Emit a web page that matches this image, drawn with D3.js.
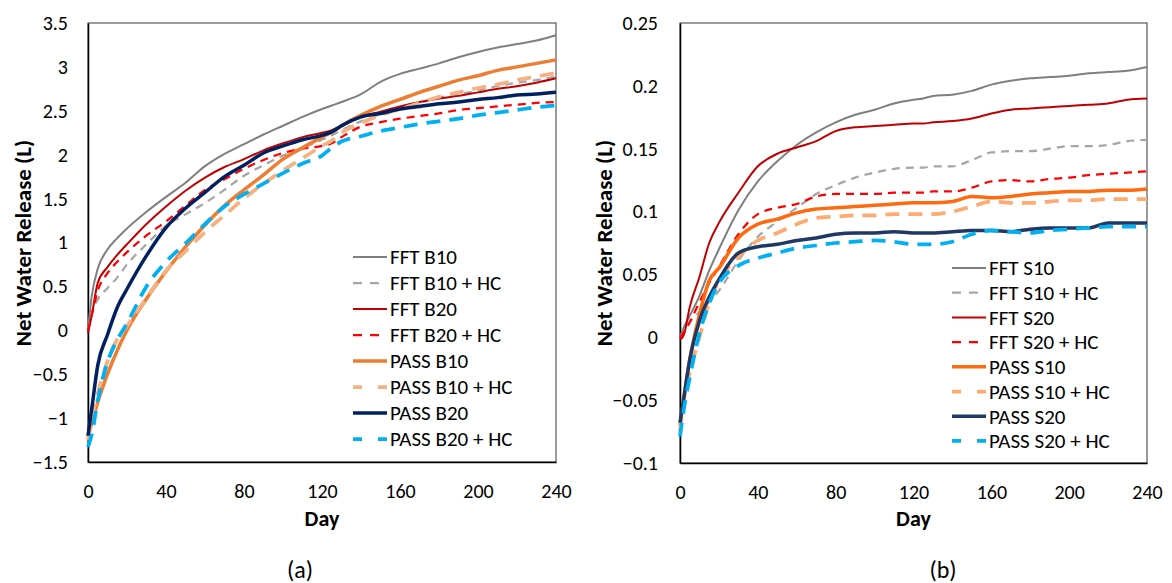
<!DOCTYPE html>
<html>
<head>
<meta charset="utf-8">
<script src="https://cdn.jsdelivr.net/npm/d3@7"></script>
<style>
  body { margin: 0; background: #fff; }
  svg text { font-family: Carlito, Calibri, Lato, sans-serif; fill: #000; }
</style>
</head>
<body>
<svg id="chart" width="1172" height="583"></svg>
<script>
// sample days shared by every series (both panels)
var days = [0, 2, 5, 10, 15, 20, 30, 40, 50, 60, 70, 80, 90, 100, 110, 120, 125, 130, 140, 150, 160, 170, 180, 190, 200, 210, 220, 230, 240];

// panel (a) - B series
var namesA = ['FFT B10', 'FFT B10 + HC', 'FFT B20', 'FFT B20 + HC', 'PASS B10', 'PASS B10 + HC', 'PASS B20', 'PASS B20 + HC'];
var fftB10 = [0.0, 0.40, 0.70, 0.92, 1.05, 1.16, 1.35, 1.52, 1.68, 1.87, 2.01, 2.12, 2.23, 2.33, 2.43, 2.52, 2.56, 2.60, 2.69, 2.83, 2.92, 2.98, 3.04, 3.11, 3.17, 3.22, 3.26, 3.30, 3.36];
var fftB10hc = [0.0, 0.20, 0.35, 0.48, 0.60, 0.75, 0.98, 1.19, 1.32, 1.45, 1.60, 1.76, 1.88, 1.99, 2.08, 2.17, 2.22, 2.28, 2.38, 2.46, 2.53, 2.59, 2.65, 2.69, 2.73, 2.78, 2.82, 2.85, 2.89];
var fftB20 = [-0.03, 0.18, 0.54, 0.72, 0.86, 0.98, 1.21, 1.41, 1.59, 1.74, 1.86, 1.95, 2.05, 2.13, 2.20, 2.25, 2.28, 2.33, 2.43, 2.49, 2.55, 2.60, 2.64, 2.67, 2.71, 2.75, 2.78, 2.82, 2.87];
var fftB20hc = [0.0, 0.18, 0.45, 0.65, 0.78, 0.89, 1.08, 1.24, 1.42, 1.60, 1.72, 1.84, 1.94, 2.02, 2.07, 2.10, 2.13, 2.20, 2.32, 2.37, 2.41, 2.44, 2.47, 2.51, 2.53, 2.55, 2.57, 2.59, 2.60];
var passB10 = [-1.22, -1.05, -0.82, -0.50, -0.23, 0.0, 0.36, 0.67, 0.95, 1.20, 1.42, 1.60, 1.77, 1.95, 2.08, 2.20, 2.26, 2.33, 2.45, 2.55, 2.63, 2.71, 2.78, 2.85, 2.90, 2.96, 3.00, 3.04, 3.08];
var passB10hc = [-1.25, -1.00, -0.72, -0.35, -0.10, 0.05, 0.37, 0.68, 0.90, 1.12, 1.31, 1.50, 1.67, 1.82, 1.96, 2.10, 2.16, 2.25, 2.36, 2.45, 2.52, 2.59, 2.66, 2.71, 2.76, 2.80, 2.85, 2.89, 2.93];
var passB20 = [-1.20, -0.88, -0.40, -0.05, 0.26, 0.47, 0.85, 1.17, 1.39, 1.57, 1.75, 1.88, 2.02, 2.10, 2.17, 2.22, 2.26, 2.33, 2.43, 2.47, 2.52, 2.55, 2.58, 2.60, 2.63, 2.65, 2.68, 2.69, 2.71];
var passB20hc = [-1.33, -1.18, -0.80, -0.36, -0.11, 0.08, 0.50, 0.78, 0.99, 1.21, 1.41, 1.55, 1.67, 1.79, 1.90, 1.99, 2.08, 2.15, 2.21, 2.27, 2.31, 2.35, 2.38, 2.41, 2.45, 2.48, 2.51, 2.54, 2.56];
var yTicksA = [-1.5, -1, -0.5, 0, 0.5, 1, 1.5, 2, 2.5, 3, 3.5];

// panel (b) - S series
var namesB = ['FFT S10', 'FFT S10 + HC', 'FFT S20', 'FFT S20 + HC', 'PASS S10', 'PASS S10 + HC', 'PASS S20', 'PASS S20 + HC'];
var fftS10 = [0.0, 0.008, 0.017, 0.033, 0.053, 0.070, 0.101, 0.124, 0.140, 0.153, 0.163, 0.171, 0.177, 0.181, 0.186, 0.189, 0.190, 0.192, 0.193, 0.196, 0.201, 0.204, 0.206, 0.207, 0.208, 0.210, 0.211, 0.212, 0.215];
var fftS10hc = [0.0, 0.004, 0.012, 0.020, 0.028, 0.037, 0.061, 0.080, 0.092, 0.103, 0.114, 0.121, 0.127, 0.131, 0.134, 0.135, 0.135, 0.136, 0.136, 0.141, 0.147, 0.148, 0.148, 0.150, 0.152, 0.152, 0.153, 0.156, 0.157];
var fftS20 = [-0.002, 0.002, 0.024, 0.048, 0.075, 0.091, 0.115, 0.136, 0.146, 0.151, 0.156, 0.164, 0.167, 0.168, 0.169, 0.170, 0.170, 0.171, 0.172, 0.174, 0.178, 0.181, 0.182, 0.183, 0.184, 0.185, 0.186, 0.189, 0.190];
var fftS20hc = [0.0, 0.004, 0.012, 0.028, 0.043, 0.056, 0.082, 0.098, 0.103, 0.106, 0.112, 0.114, 0.114, 0.114, 0.115, 0.115, 0.115, 0.116, 0.116, 0.119, 0.124, 0.125, 0.124, 0.126, 0.127, 0.129, 0.130, 0.131, 0.132];
var passS10 = [-0.070, -0.048, -0.018, 0.018, 0.045, 0.055, 0.079, 0.090, 0.094, 0.099, 0.102, 0.103, 0.104, 0.105, 0.106, 0.107, 0.107, 0.107, 0.108, 0.112, 0.111, 0.112, 0.114, 0.115, 0.116, 0.116, 0.117, 0.117, 0.118];
var passS10hc = [-0.075, -0.050, -0.028, 0.0, 0.028, 0.045, 0.064, 0.077, 0.083, 0.090, 0.095, 0.096, 0.097, 0.097, 0.098, 0.098, 0.098, 0.098, 0.100, 0.104, 0.108, 0.107, 0.107, 0.108, 0.109, 0.109, 0.110, 0.110, 0.110];
var passS20 = [-0.068, -0.048, -0.018, 0.013, 0.032, 0.046, 0.067, 0.072, 0.074, 0.077, 0.079, 0.082, 0.083, 0.083, 0.084, 0.083, 0.083, 0.083, 0.084, 0.085, 0.085, 0.084, 0.086, 0.087, 0.087, 0.087, 0.091, 0.091, 0.091];
var passS20hc = [-0.079, -0.057, -0.032, 0.003, 0.027, 0.043, 0.057, 0.063, 0.067, 0.071, 0.073, 0.075, 0.076, 0.077, 0.076, 0.074, 0.074, 0.074, 0.076, 0.082, 0.085, 0.084, 0.083, 0.085, 0.086, 0.087, 0.088, 0.088, 0.088];
var yTicksB = [-0.1, -0.05, 0, 0.05, 0.1, 0.15, 0.2, 0.25];

var xTicks = [0, 40, 80, 120, 160, 200, 240];

// line looks, in legend order
var colorsA = ['#7f7f7f', '#a6a6a6', '#c00000', '#ff0000', '#ed7d31', '#f4b183', '#002060', '#00b0f0'];
var colorsB = ['#7f7f7f', '#a6a6a6', '#c00000', '#ff0000', '#ff6a10', '#ffaa70', '#1f3864', '#00b0f0'];
var widths = [2, 2.25, 2, 2.25, 3.5, 3.75, 3.5, 3.75];
var dashes = [null, '8,6', null, '8,6', null, '14,9', null, '14,9'];

var svg = d3.select('#chart');

function drawPanel(opt) {
    var g = svg.append('g');
    var x = d3.scaleLinear().domain([0, 240]).range([opt.left, opt.right]);
    var y = d3.scaleLinear().domain(opt.yDomain).range([opt.bottom, opt.top]);

    // frame
    g.append('rect')
        .attr('x', opt.left).attr('y', opt.top)
        .attr('width', opt.right - opt.left).attr('height', opt.bottom - opt.top)
        .attr('fill', 'none').attr('stroke', '#595959').attr('stroke-width', 1.2);

    var yAxis = g.append('g')
        .attr('transform', 'translate(' + opt.left + ',0)')
        .call(d3.axisLeft(y).tickValues(opt.yTicks).tickSize(0).tickPadding(opt.yPad).tickFormat(function(d) { return d3.format('')(+d.toFixed(2)); }));
    yAxis.select('.domain').attr('stroke', '#000').attr('stroke-width', 1.5);
    yAxis.selectAll('text').style('font-size', '20px');

    var xAxis = g.append('g')
        .attr('transform', 'translate(0,' + opt.bottom + ')')
        .call(d3.axisBottom(x).tickValues(xTicks).tickSize(0).tickPadding(22));
    xAxis.select('.domain').attr('stroke', '#000').attr('stroke-width', 1.5);
    xAxis.selectAll('text').style('font-size', '20px');

    var line = d3.line()
        .x(function(d) { return x(d[0]); })
        .y(function(d) { return y(d[1]); })
        .curve(d3.curveMonotoneX);

    opt.series.forEach(function(vals, i) {
        var pts = days.map(function(dd, j) { return [dd, vals[j]]; });
        g.append('path')
            .datum(pts)
            .attr('d', line)
            .attr('fill', 'none')
            .attr('stroke', opt.colors[i])
            .attr('stroke-width', widths[i])
            .attr('stroke-dasharray', dashes[i])
            .attr('stroke-linejoin', 'round');
    });

    // legend
    opt.names.forEach(function(name, i) {
        var ly = opt.legY + i * opt.legStep;
        g.append('line')
            .attr('x1', opt.legX).attr('x2', opt.legX + 34)
            .attr('y1', ly).attr('y2', ly)
            .attr('stroke', opt.colors[i])
            .attr('stroke-width', widths[i])
            .attr('stroke-dasharray', dashes[i] ? (i < 4 ? '9,8' : '9,16') : null);
        g.append('text')
            .attr('x', opt.legX + 37).attr('y', ly)
            .attr('dy', '0.35em')
            .style('font-size', '21px')
            .text(name);
    });

    // titles
    g.append('text')
        .attr('transform', 'translate(' + opt.yTitleX + ',243) rotate(-90)')
        .attr('text-anchor', 'middle')
        .attr('dy', '0.35em')
        .style('font-size', '23px').style('font-weight', 'bold')
        .text('Net Water Release (L)');
    g.append('text')
        .attr('x', (opt.left + opt.right) / 2).attr('y', 518)
        .attr('text-anchor', 'middle').attr('dy', '0.35em')
        .style('font-size', '22px').style('font-weight', 'bold')
        .text('Day');
    g.append('text')
        .attr('x', opt.capX).attr('y', 570)
        .attr('text-anchor', 'middle').attr('dy', '0.35em')
        .style('font-size', '24px')
        .text(opt.caption);
}

drawPanel({
    left: 88, right: 556, top: 23, bottom: 462,
    yDomain: [-1.5, 3.5], yTicks: yTicksA, yPad: 20,
    series: [fftB10, fftB10hc, fftB20, fftB20hc, passB10, passB10hc, passB20, passB20hc],
    names: namesA, colors: colorsA,
    legX: 353, legY: 257, legStep: 26,
    yTitleX: 23, capX: 300, caption: '(a)'
});

drawPanel({
    left: 680, right: 1147, top: 23, bottom: 463,
    yDomain: [-0.1, 0.25], yTicks: yTicksB, yPad: 22,
    series: [fftS10, fftS10hc, fftS20, fftS20hc, passS10, passS10hc, passS20, passS20hc],
    names: namesB, colors: colorsB,
    legX: 952, legY: 268, legStep: 24.7,
    yTitleX: 604, capX: 943, caption: '(b)'
});
</script>
</body>
</html>
